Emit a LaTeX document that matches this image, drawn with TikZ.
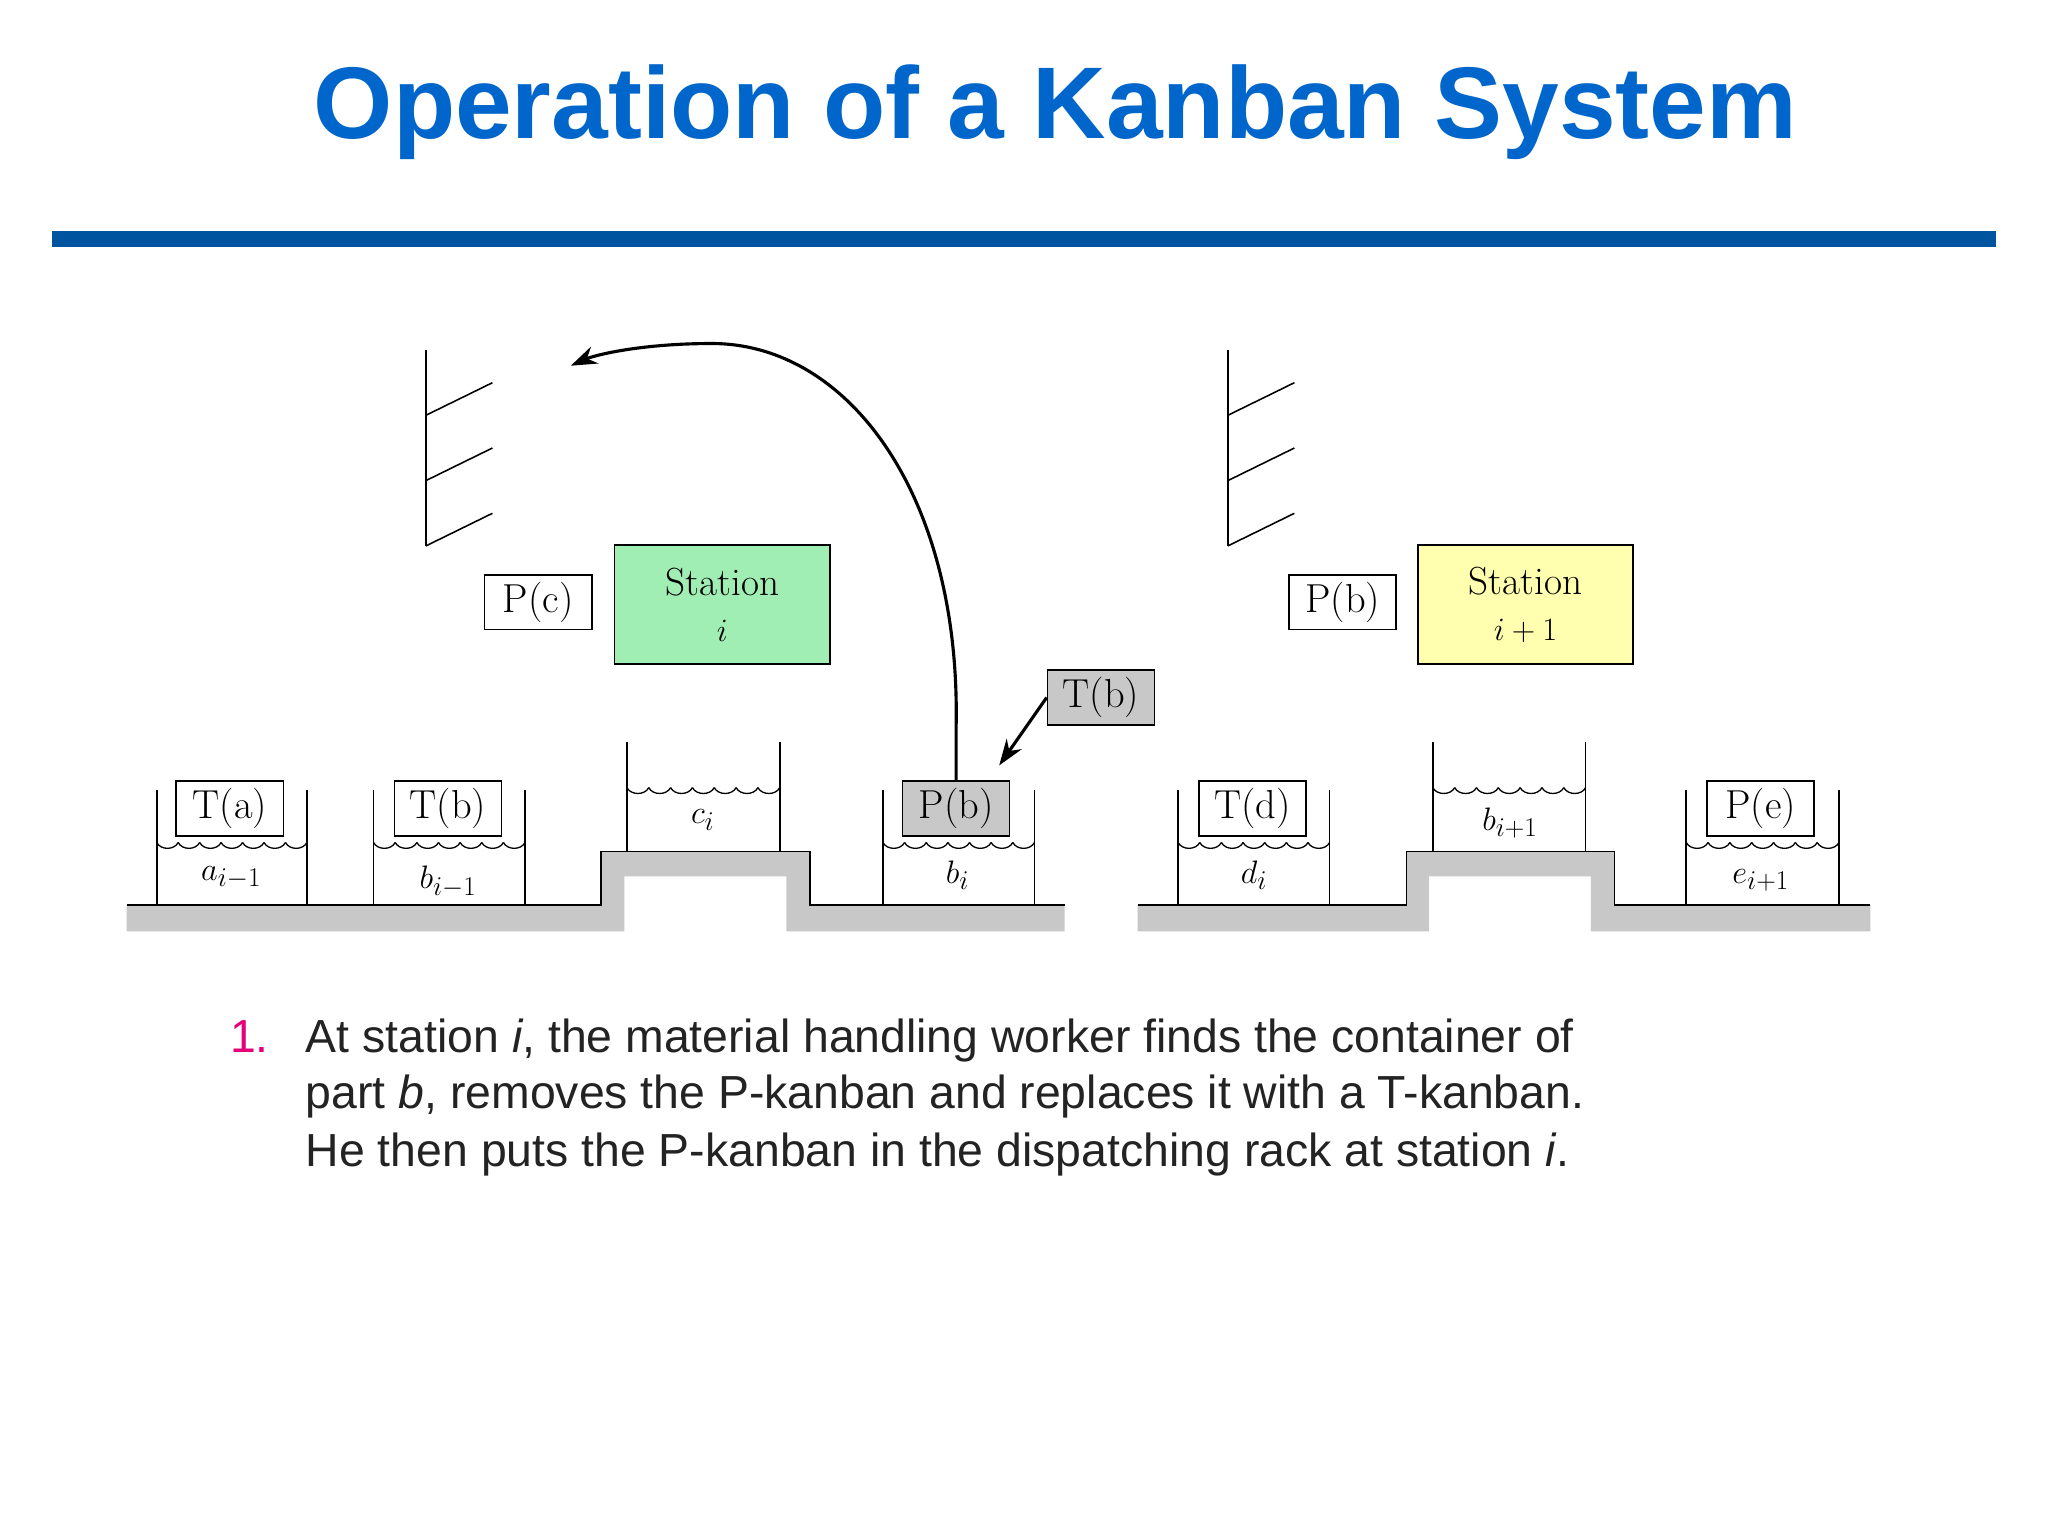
\documentclass[tikz,border=0pt]{standalone}
\usepackage{fontspec}
\newfontfamily\arialf{Liberation Sans}
\usetikzlibrary{arrows.meta}
\definecolor{ttlblue}{RGB}{0,102,204}
\definecolor{rulblue}{RGB}{0,84,159}
\definecolor{grnbox}{RGB}{160,238,180}
\definecolor{ylwbox}{RGB}{255,255,175}
\definecolor{gnd}{RGB}{200,200,200}
\definecolor{pinkn}{RGB}{230,0,120}
\definecolor{txtg}{RGB}{35,35,35}
\tikzset{
 card/.style={draw,line width=1.3pt,minimum width=82pt,minimum height=42pt,inner sep=0pt,font=\fontsize{31}{33}\selectfont},
 stn/.style={draw,line width=1.3pt,minimum width=165pt,minimum height=91pt,inner sep=0pt,align=center,font=\fontsize{30}{35}\selectfont},
 lbl/.style={font=\fontsize{31}{33}\selectfont,inner sep=0pt},
 ln/.style={line width=1.2pt},
 arr/.style={line width=2.4pt,-{Stealth[length=20pt,width=14pt]}}
}
\newcommand\kcont[5]{% xl xr top bottom wave
 \draw[ln] (#1,#3) -- (#1,#4) (#2,#3) -- (#2,#4);
 \pgfmathsetmacro\kw{(#2-#1)/7}
 \foreach \k in {0,...,6}{
   \pgfmathsetmacro\ka{#1+\k*\kw}
   \pgfmathsetmacro\kb{\ka+\kw}
   \draw[line width=1pt] (\ka,#5) .. controls (\ka+3,#5+6) and (\kb-3,#5+6) .. (\kb,#5);
 }}
\newcommand\krack[1]{%
 \draw[ln] (#1,268) -- (#1,418);
 \foreach \yy in {318,368,418} \draw[ln] (#1,\yy) -- (#1+51,\yy-25);}
\newcommand\kground[6]{% x0 s1 s2 s3 s4 x1
 \fill[gnd] (#1,693) -- (#2,693) -- (#2,652) -- (#5,652) -- (#5,693) -- (#6,693) -- (#6,713) -- (#4,713) -- (#4,671) -- (#3,671) -- (#3,713) -- (#1,713) -- cycle;
 \draw[ln] (#1,693) -- (#2,693) -- (#2,652) -- (#5,652) -- (#5,693) -- (#6,693);}
\begin{document}
\begin{tikzpicture}[x=1pt,y=-1pt]
\useasboundingbox (0,0) rectangle (1568,1176);
\fill[white] (0,0) rectangle (1568,1176);
\node[font=\arialf\bfseries\fontsize{78}{86}\selectfont,text=ttlblue] (title) at (808,86) {Operation of a Kanban System};
\fill[rulblue] (40,177) rectangle (1528,189);
% grounds
\kground{97}{460}{478}{602}{620}{815}
\kground{871}{1077}{1094}{1218}{1236}{1432}
% containers
\kcont{120}{235}{605}{693}{645}
\kcont{286}{402}{605}{693}{645}
\kcont{480}{597}{568}{652}{603}
\kcont{676}{792}{605}{693}{645}
\kcont{902}{1018}{605}{693}{645}
\kcont{1097}{1214}{568}{652}{603}
\kcont{1291}{1408}{605}{693}{645}
% cards in containers
\node[card] (ta) at (176,619) {T(a)};
\node[card] (tb1) at (343,619) {T(b)};
\node[card,fill=gnd] (pb) at (732,619) {P(b)};
\node[card] (td) at (959,619) {T(d)};
\node[card] (pe) at (1348,619) {P(e)};
% contents
\node[lbl] (a1) at (177,672) {$a_{i-1}$};
\node[lbl] (b1) at (343,675) {$b_{i-1}$};
\node[lbl] (ci) at (538,628) {$c_i$};
\node[lbl] (bi) at (733,670) {$b_i$};
\node[lbl] (di) at (960,670) {$d_i$};
\node[lbl] (bip) at (1156,630) {$b_{i+1}$};
\node[lbl] (eip) at (1348,674) {$e_{i+1}$};
% racks
\krack{326}
\krack{940}
% stations
\node[card] (pc) at (412,461) {P(c)};
\node[stn,fill=grnbox] (st1) at (553,463) {Station\\$i$};
\node[card] (pb2) at (1028,461) {P(b)};
\node[stn,fill=ylwbox] (st2) at (1168,463) {Station\\$i+1$};
\node[card,fill=gnd] (tb2) at (843,534) {T(b)};
\coordinate (rk) at (437,280);
\draw[arr] (tb2.west) -- (765,586);
\draw[arr] (pb.north) -- ++(0,-40) .. controls (736,380) and (650,263) .. (545,263) .. controls (490,263) and (455,272) .. (rk);
% text
\begin{scope}[font=\arialf\fontsize{35.5}{43.5}\selectfont]
\node[anchor=base west,text=pinkn,inner sep=0pt] (n1) at (176,806) {1.};
\node[anchor=base west,text=txtg,align=left,inner sep=0pt] (t1) at (234,806) {At station \textit{i}, the material handling worker finds the container of};
\node[anchor=base west,text=txtg,inner sep=0pt] (t2) at (234,849) {part \textit{b}, removes the P-kanban and replaces it with a T-kanban.};
\node[anchor=base west,text=txtg,inner sep=0pt] (t3) at (234,893) {He then puts the P-kanban in the dispatching rack at station \textit{i}.};
\end{scope}
\end{tikzpicture}
\end{document}
